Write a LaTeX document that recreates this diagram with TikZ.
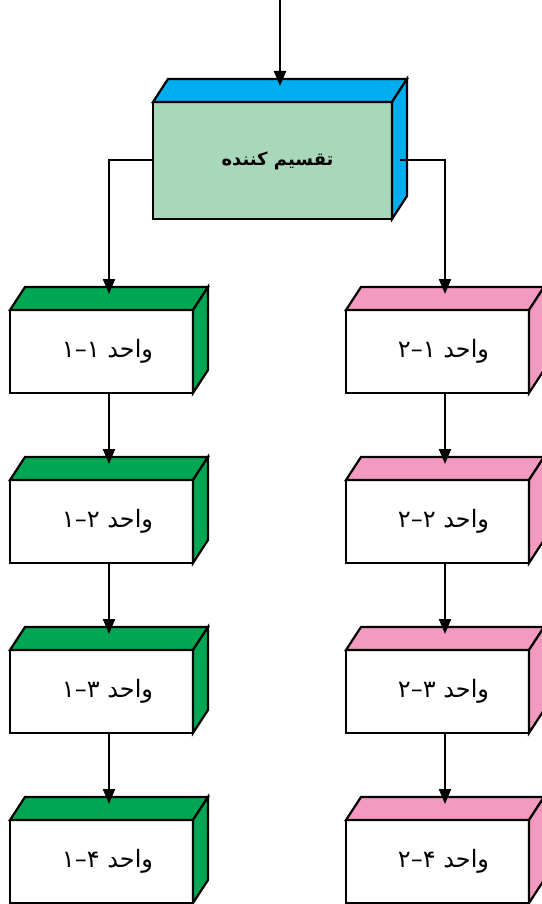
\documentclass[tikz,border=0pt]{standalone}
\usepackage{fontspec}
\newfontfamily\arabicfont[Script=Arabic]{DejaVu Sans}
\TeXXeTstate=1
\usetikzlibrary{arrows.meta, positioning, calc}
\definecolor{topblue}{RGB}{0,174,239}
\definecolor{mint}{RGB}{168,216,185}
\definecolor{unitgreen}{RGB}{0,166,81}
\definecolor{unitpink}{RGB}{244,154,193}
\tikzset{
        node distance=87pt and 153pt, % gap between two unit boxes (down and across)
        box/.style={draw, line width=2.2pt, fill=white, inner sep=0pt, outer sep=0pt,
            minimum width=183pt, minimum height=83pt,
            font=\arabicfont\fontsize{24}{28}\selectfont}, % front face of a unit
        divider/.style={box, fill=mint, minimum width=239pt, minimum height=117pt,
            font=\arabicfont\bfseries\fontsize{18}{22}\selectfont}, % front face of the top box
        face/.style={draw, line width=2.2pt, line join=miter}, % top and side faces
        arr/.style={line width=2pt, -{Triangle[width=12pt,length=15pt]}}, % connectors
    }
\newcommand{\unitlabel}[2]{\hspace*{12pt}\beginR واحد \beginL#2–#1\endL\endR}

\begin{document}
\begin{tikzpicture}[x=1pt, y=-1pt]
    \useasboundingbox (0,0) rectangle (541,904);

    \node[divider, anchor=north west] (div) at (153,102) {\hspace*{10pt}\beginR تقسیم کننده\endR};

    \node[box, anchor=north west] (a1) at (10,310) {\unitlabel{۱}{۱}};
    \node[box, below=of a1] (a2) {\unitlabel{۱}{۲}};
    \node[box, below=of a2] (a3) {\unitlabel{۱}{۳}};
    \node[box, below=of a3] (a4) {\unitlabel{۱}{۴}};

    \node[box, right=of a1] (b1) {\unitlabel{۲}{۱}};
    \node[box, below=of b1] (b2) {\unitlabel{۲}{۲}};
    \node[box, below=of b2] (b3) {\unitlabel{۲}{۳}};
    \node[box, below=of b3] (b4) {\unitlabel{۲}{۴}};

    % top and right faces of every box
    \foreach \n/\c in {div/topblue, a1/unitgreen, a2/unitgreen, a3/unitgreen, a4/unitgreen,
                       b1/unitpink, b2/unitpink, b3/unitpink, b4/unitpink} {
        \draw[face, fill=\c] (\n.north west) -- ++(15,-23) -- ($(\n.north east)+(15,-23)$)
            -- (\n.north east) -- cycle;
        \draw[face, fill=\c] (\n.north east) -- ++(15,-23) -- ($(\n.south east)+(15,-23)$)
            -- (\n.south east) -- cycle;
        \coordinate (tip\n) at ($(\n.north)+(7.5,-16)$);
    }

    \coordinate (in) at ($(tipdiv)+(0,-90)$);
    \draw[arr] (in) -- (tipdiv);
    \draw[arr] (div.west) -| (tipa1);
    \draw[arr] ($(div.east)+(8,0)$) -| (tipb1);

    \foreach \u/\v in {a1/a2, a2/a3, a3/a4, b1/b2, b2/b3, b3/b4}
        \draw[arr] (\u.south -| tip\v) -- (tip\v);
\end{tikzpicture}
\end{document}
